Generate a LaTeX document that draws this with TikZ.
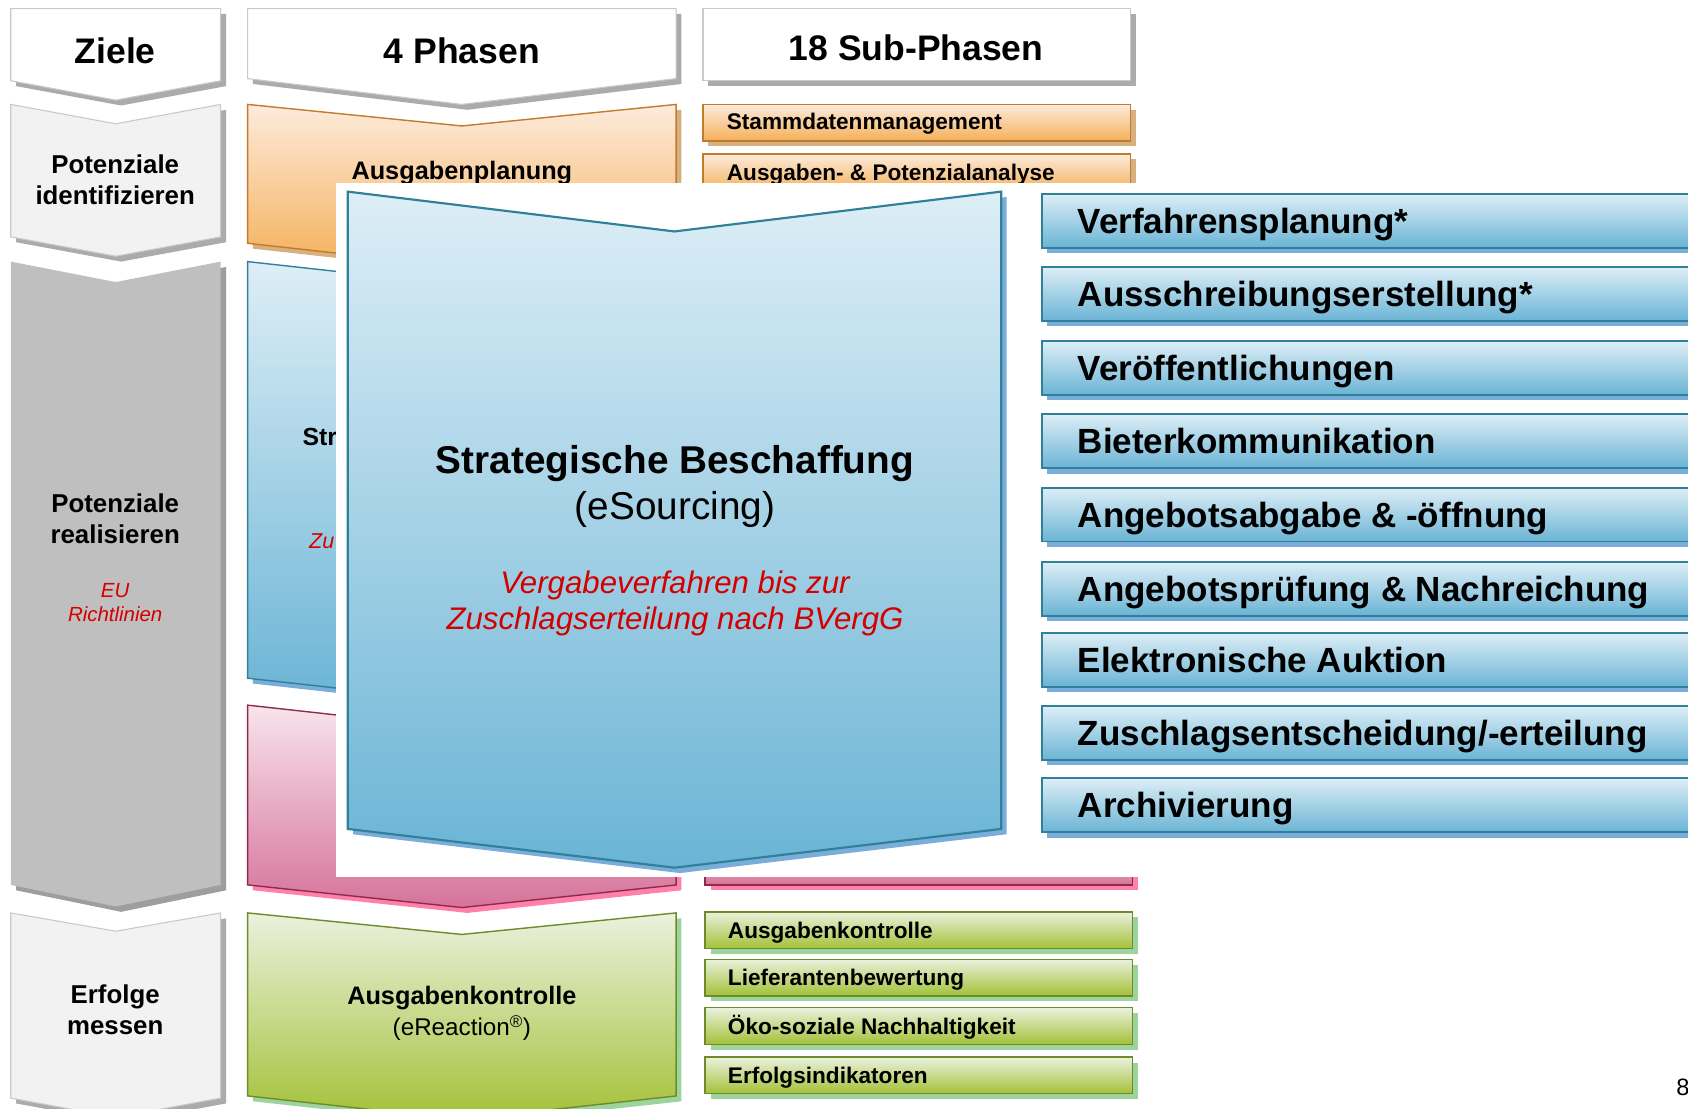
\documentclass[tikz,border=0pt]{standalone}
\usepackage{fontspec}
\setmainfont{Liberation Sans}
\definecolor{shgrey}{HTML}{ABABAB}
\definecolor{lgrey}{HTML}{F2F2F2}
\definecolor{bgrey}{HTML}{C9C9C9}
\definecolor{mgrey}{HTML}{BFBFBF}
\definecolor{dgrey}{HTML}{9E9E9E}
\definecolor{orTop}{HTML}{FDEBDC}
\definecolor{orBot}{HTML}{F4B05A}
\definecolor{orLine}{HTML}{C27A2C}
\definecolor{orShd}{HTML}{D6B07E}
\definecolor{blTop}{HTML}{DDEEF6}
\definecolor{blBot}{HTML}{6AB4D5}
\definecolor{blLine}{HTML}{31809A}
\definecolor{blShd}{HTML}{7AAEDA}
\definecolor{pkTop}{HTML}{F8E4EC}
\definecolor{pkBot}{HTML}{D6739A}
\definecolor{pkLine}{HTML}{8E2B4B}
\definecolor{pkShd}{HTML}{FF80AB}
\definecolor{gnTop}{HTML}{EBF1DE}
\definecolor{gnBot}{HTML}{A3C137}
\definecolor{gnLine}{HTML}{6E8B2A}
\definecolor{gnShd}{HTML}{9DD39D}
\definecolor{redtxt}{HTML}{D40000}
% chevron: x1 x2 ytop notch ybot depth shadowstyle mainstyle
\newcommand{\chevshape}[8]{%
 \fill[#7] ({#1+5},{#3+5}) -- ({(#1+#2)/2+5},{#3+#4+5}) -- ({#2+5},{#3+5}) -- ({#2+5},{#5+5}) -- ({(#1+#2)/2+5},{#5+#6+5}) -- ({#1+5},{#5+5}) -- cycle;
 \path[#8] (#1,#3) -- ({(#1+#2)/2},{#3+#4}) -- (#2,#3) -- (#2,#5) -- ({(#1+#2)/2},{#5+#6}) -- (#1,#5) -- cycle;}
% box: x1 y1 x2 y2 shadowstyle mainstyle
\newcommand{\boxshape}[6]{%
 \fill[#5] ({#1+5},{#2+5}) rectangle ({#3+5},{#4+5});
 \path[#6] (#1,#2) rectangle (#3,#4);}
\begin{document}
\begin{tikzpicture}[x=1pt,y=-1pt,
  hdr/.style={font=\fontsize{33}{38}\selectfont\bfseries, inner sep=0pt},
  goal/.style={font=\fontsize{24}{29}\selectfont\bfseries, align=center, inner sep=0pt},
  redit/.style={font=\fontsize{19}{22}\selectfont\itshape, text=redtxt, align=center, inner sep=0pt},
  phase/.style={font=\fontsize{23.5}{29}\selectfont\bfseries, align=center, inner sep=0pt},
  sub/.style={font=\fontsize{21}{24}\selectfont\bfseries, anchor=mid west, inner sep=0pt},
  item/.style={font=\fontsize{32.5}{38}\selectfont\bfseries, anchor=mid west, inner sep=0pt},
  whitesty/.style={fill=white, draw=bgrey, line width=1pt},
  lgreysty/.style={fill=lgrey, draw=bgrey, line width=1pt},
  mgreysty/.style={fill=mgrey},
  greyshd/.style={fill=shgrey},
  darkshd/.style={fill=dgrey},
  orsty/.style={top color=orTop, bottom color=orBot, draw=orLine, line width=1.3pt},
  orshd/.style={fill=orShd},
  blsty/.style={top color=blTop, bottom color=blBot, draw=blLine, line width=1.3pt},
  blshd/.style={fill=blShd},
  pksty/.style={top color=pkTop, bottom color=pkBot, draw=pkLine, line width=1.3pt},
  pkshd/.style={fill=pkShd},
  gnsty/.style={top color=gnTop, bottom color=gnBot, draw=gnLine, line width=1.3pt},
  gnshd/.style={fill=gnShd},
  bigsty/.style={top color=blTop, bottom color=blBot, draw=blLine, line width=2pt},
  itemsty/.style={top color=blTop, bottom color=blBot, draw=blLine, line width=1.8pt},
]
\useasboundingbox (0,0) rectangle (1568,1030);
\begin{scope}
\clip (0,0) rectangle (1568,1030);
\fill[white] (0,0) rectangle (1568,1030);

% ---------- column 1: goals ----------
\chevshape{10}{205}{8}{0}{75}{18}{greyshd}{whitesty}
\chevshape{10}{205}{97}{18}{220}{18}{greyshd}{lgreysty}
\chevshape{10}{205}{243}{19}{822}{20}{darkshd}{mgreysty}
\chevshape{10}{205}{848}{17}{1020}{18}{greyshd}{lgreysty}
\node[hdr] (ziele) at (107,47) {Ziele};
\node[goal] (pid) at (107,167) {Potenziale\\identifizieren};
\node[goal] (preal) at (107,482) {Potenziale\\realisieren};
\node[redit] (eu) at (107,560) {EU\\Richtlinien};
\node[goal] (erf) at (107,938) {Erfolge\\messen};

% ---------- column 2: phases ----------
\chevshape{230}{628}{8}{0}{73}{24}{greyshd}{whitesty}
\chevshape{230}{628}{97}{20}{226}{22}{orshd}{orsty}
\chevshape{230}{628}{243}{22}{630}{22}{blshd}{blsty}
\chevshape{230}{628}{655}{22}{822}{21}{pkshd}{pksty}
\chevshape{230}{628}{848}{20}{1018}{22}{gnshd}{gnsty}
\node[hdr] (phasen) at (429,47) {4 Phasen};
\node[phase, anchor=mid] (ausgpl) at (429,164) {Ausgabenplanung};
\node[font=\fontsize{23}{28}\selectfont\bfseries, anchor=mid west, inner sep=0pt] (strbg) at (281,411) {Str};
\node[font=\fontsize{20}{24}\selectfont\itshape, text=redtxt, anchor=mid west, inner sep=0pt] (zubg) at (287,507) {Zu};
\node[phase] (ausgko) at (429,941) {Ausgabenkontrolle\\{\fontsize{22.5}{29}\selectfont\mdseries (eReaction\textsuperscript{®})}};

% ---------- column 3: sub-phases ----------
\boxshape{653}{8}{1050}{75}{greyshd}{whitesty}
\node[hdr] (subph) at (851,44) {18 Sub-Phasen};
\boxshape{653}{97}{1050}{131}{orshd}{orsty}
\boxshape{653}{143}{1050}{178}{orshd}{orsty}
\node[sub] (s1) at (675,118) {Stammdatenmanagement};
\node[sub] (s2) at (675,165) {Ausgaben- \& Potenzialanalyse};
\boxshape{655}{780}{1052}{822}{pkshd}{pksty}
\boxshape{655}{847}{1052}{881}{gnshd}{gnsty}
\boxshape{655}{891}{1052}{925}{gnshd}{gnsty}
\boxshape{655}{936}{1052}{970}{gnshd}{gnsty}
\boxshape{655}{982}{1052}{1016}{gnshd}{gnsty}
\node[sub] (g1) at (676,869) {Ausgabenkontrolle};
\node[sub] (g2) at (676,913) {Lieferantenbewertung};
\node[sub] (g3) at (676,958) {Öko-soziale Nachhaltigkeit};
\node[sub] (g4) at (676,1004) {Erfolgsindikatoren};

% ---------- white overlay (enlarged phase) ----------
\fill[white] (312,170) rectangle (1568,815);
\chevshape{323}{930}{178}{37}{770}{36}{blshd}{bigsty}
\node[font=\fontsize{36}{43}\selectfont\bfseries, align=center, inner sep=0pt] (bigt) at (627,452) {Strategische Beschaffung\\{\mdseries (eSourcing)}};
\node[font=\fontsize{29}{33}\selectfont\itshape, text=redtxt, align=center, inner sep=0pt] (bigr) at (627,560.5) {Vergabeverfahren bis zur\\Zuschlagserteilung nach BVergG};

% ---------- enlarged sub-phase list ----------
\foreach \yy/\tt [count=\i] in {180/{Verfahrensplanung*},248/{Ausschreibungserstellung*},317/{Veröffentlichungen},385/{Bieterkommunikation},453/{Angebotsabgabe \& -öffnung},522/{Angebotsprüfung \& Nachreichung},588/{Elektronische Auktion},656/{Zuschlagsentscheidung/-erteilung},723/{Archivierung}}{
  \boxshape{968}{\yy}{1620}{\yy+50}{blshd}{itemsty}
  \node[item] (it\i) at (1001,\yy+34) {\tt};
}

\node[font=\fontsize{22}{26}\selectfont, anchor=mid west, inner sep=0pt] (pg) at (1557,1015) {8};
\end{scope}
\end{tikzpicture}
\end{document}
